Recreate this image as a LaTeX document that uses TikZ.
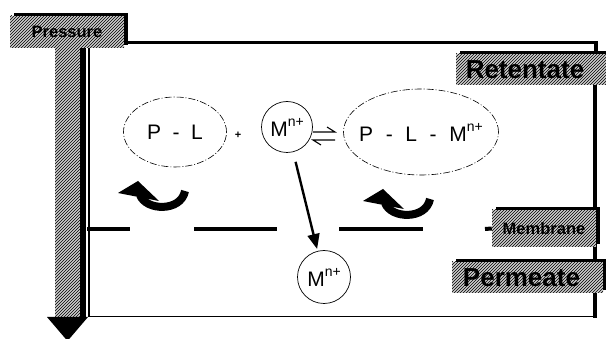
\documentclass[tikz,border=0pt]{standalone}
\usepackage{fontspec}
\setmainfont{Liberation Sans}
\usetikzlibrary{patterns,shapes.geometric,shadows,arrows.meta}
\begin{document}
\begin{tikzpicture}[x=1pt,y=-1pt,
  hatchbox/.style={rectangle, inner sep=0pt, anchor=center,
    general shadow={fill=black, shadow xshift=4pt, shadow yshift=3pt},
    preaction={fill=gray!40}, pattern=north east lines, pattern color=black,
    font=\bfseries},
  framethick/.style={line width=3.2pt},
  framethin/.style={line width=1.3pt},
  memb/.style={line width=4pt},
  dashell/.style={ellipse, draw, line width=0.6pt, dash pattern=on 7pt off 2pt on 1pt off 2pt, inner sep=0pt},
  ioncircle/.style={circle, draw, line width=0.7pt, minimum size=51pt, inner sep=0pt},
  chem/.style={font=\fontsize{21}{24}\selectfont},
  flow/.style={line width=2.4pt, -{Triangle[length=15pt,width=12pt]}},
  turnarrow/.pic={
    \fill (0,0) -- (20,-12) -- (41,8) -- cycle;
    \draw[line width=8pt] (22,2) .. controls (28,18) and (63,19) .. (67,-2);
  }
]
\useasboundingbox (0,0) rectangle (606,339);

% frame
\draw[framethick] (128,42.5) -- (596,42.5) -- (596,53);
\draw[framethick] (595,84) -- (595,318);
\draw[framethin] (88,316.5) -- (595,316.5);
\draw[framethin] (89,48) -- (89,317);

% pressure arrow
\fill (80,48) rectangle (86,318);
\path[preaction={fill=gray!40}, pattern=north east lines, pattern color=black] (55,48) rectangle (80,318);
\fill (47,317) -- (88,317) -- (67.5,341) -- cycle;

% labels
\node[hatchbox, minimum width=114pt, minimum height=32pt, font=\bfseries\fontsize{16.5}{18}\selectfont] (press) at (67,32) {Pressure};
\node[hatchbox, minimum width=152pt, minimum height=31pt, font=\bfseries\fontsize{26}{28}\selectfont] (ret) at (532,69.5) {\hspace*{-14pt}Retentate};
\node[hatchbox, minimum width=104pt, minimum height=37pt, font=\bfseries\fontsize{16.5}{18}\selectfont] (membrane) at (544,228.5) {Membrane};
\node[hatchbox, minimum width=151pt, minimum height=31pt, font=\bfseries\fontsize{26}{28}\selectfont] (perm) at (527.5,277.5) {\hspace*{-12pt}Permeate};

% membrane line
\draw[memb] (87,229) -- (130,229);
\draw[memb] (194,229) -- (277,229);
\draw[memb] (339,229) -- (423,229);
\draw[memb] (485,229) -- (membrane.west);

% species
\node[dashell, minimum width=103pt, minimum height=70pt,
  label={[chem]center:P\hspace{0.55em}-\hspace{0.55em}L}] (pl) at (175,132) {};
\node[font=\bfseries\fontsize{11}{12}\selectfont] (plus) at (238,135) {+};
\node[ioncircle, chem] (m1) at (287,127) {M\raisebox{10pt}{\fontsize{14}{14}\selectfont n+}};
\node[dashell, minimum width=155pt, minimum height=86pt,
  label={[chem]center:P\hspace{0.6em}-\hspace{0.6em}L\hspace{0.6em}-\hspace{0.6em}M\raisebox{10pt}{\fontsize{14}{14}\selectfont n+}}] (plm) at (421,132) {};
\node[ioncircle, chem, minimum size=53pt] (m2) at (324,277) {M\raisebox{10pt}{\fontsize{14}{14}\selectfont n+}};

% equilibrium harpoons
\draw[line width=1.1pt] (313,132) -- (335,132) -- (327,127);
\draw[line width=1.1pt] (335,140) -- (313,140) -- (321,145);

% transport arrow
\draw[flow, shorten <=10pt, shorten >=2pt] (m1) -- (m2);

% turning arrows
\pic at (118,193) {turnarrow};
\pic at (363,201) {turnarrow};
\end{tikzpicture}
\end{document}
